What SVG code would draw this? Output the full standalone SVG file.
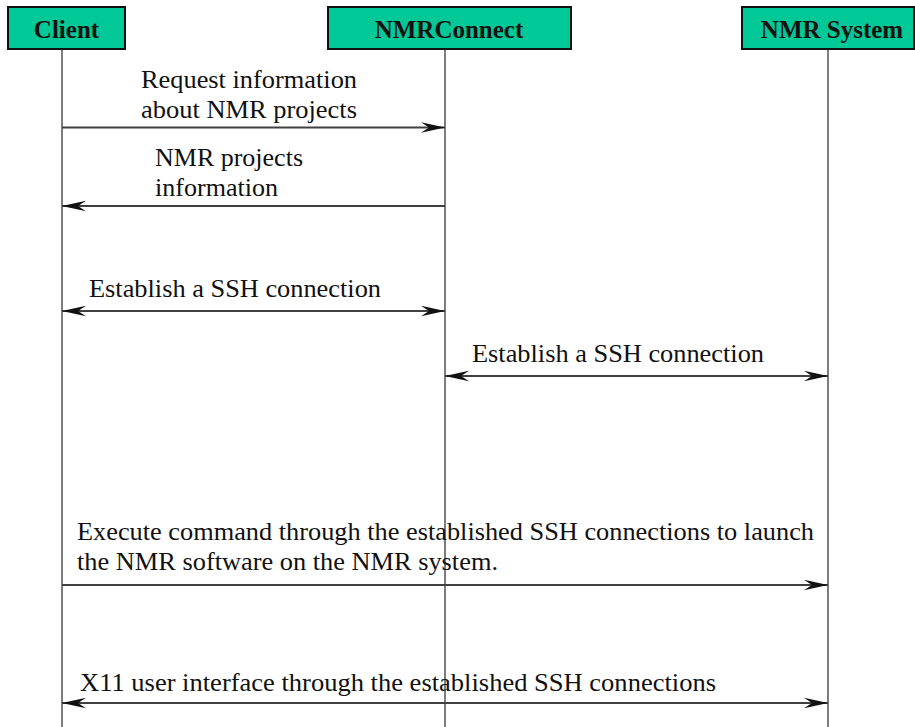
<svg xmlns="http://www.w3.org/2000/svg" width="915" height="727" viewBox="0 0 915 727">
  <style>
    .box { fill: #00c896; stroke: #111; stroke-width: 2; }
    .title { font-family: "Liberation Serif", "Times New Roman", serif; font-weight: bold; font-size: 25px; fill: #111; text-anchor: middle; }
    .life { stroke: #707070; stroke-width: 1.8; fill: none; }
    .msg { stroke: #404040; stroke-width: 1.8; fill: none; }
    .label { font-family: "Liberation Serif", "Times New Roman", serif; font-size: 26px; fill: #111; }
  </style>
  <defs>
    <marker id="head" viewBox="0 0 24 12" refX="24" refY="6" markerWidth="24" markerHeight="12" markerUnits="userSpaceOnUse" orient="auto-start-reverse">
      <path d="M24,6 L0,0.8 L8,6 L0,11.2 Z" fill="#111"/>
    </marker>
  </defs>

  <rect width="915" height="727" fill="#ffffff"/>

  <!-- lifelines -->
  <g id="lifelines">
    <line class="life" x1="62" y1="49" x2="62" y2="727"/>
    <line class="life" x1="445" y1="49" x2="445" y2="727"/>
    <line class="life" x1="828" y1="49" x2="828" y2="727"/>
  </g>

  <!-- participants -->
  <g id="client">
    <rect class="box" x="8" y="7" width="117" height="42"/>
    <text class="title" x="66.5" y="38">Client</text>
  </g>
  <g id="nmrconnect">
    <rect class="box" x="328" y="7" width="243" height="42"/>
    <text class="title" x="449" y="38">NMRConnect</text>
  </g>
  <g id="nmrsystem">
    <rect class="box" x="742" y="7" width="172" height="42"/>
    <text class="title" x="832" y="38">NMR System</text>
  </g>

  <!-- messages -->
  <g id="connectors">
    <line class="msg" x1="62" y1="127.5" x2="445" y2="127.5" marker-end="url(#head)"/>
    <line class="msg" x1="445" y1="206" x2="62" y2="206" marker-end="url(#head)"/>
    <line class="msg" x1="62" y1="311" x2="445" y2="311" marker-start="url(#head)" marker-end="url(#head)"/>
    <line class="msg" x1="445" y1="376" x2="828" y2="376" marker-start="url(#head)" marker-end="url(#head)"/>
    <line class="msg" x1="62" y1="585" x2="828" y2="585" marker-end="url(#head)"/>
    <line class="msg" x1="62" y1="703" x2="828" y2="703" marker-start="url(#head)" marker-end="url(#head)"/>
  </g>

  <!-- message labels -->
  <g id="labels">
    <text class="label" x="141" y="88" textLength="216" lengthAdjust="spacingAndGlyphs">Request information</text>
    <text class="label" x="141" y="118" textLength="216" lengthAdjust="spacingAndGlyphs">about NMR projects</text>
    <text class="label" x="155" y="166" textLength="148" lengthAdjust="spacingAndGlyphs">NMR projects</text>
    <text class="label" x="155" y="196" textLength="123" lengthAdjust="spacingAndGlyphs">information</text>
    <text class="label" x="89" y="297" textLength="292" lengthAdjust="spacingAndGlyphs">Establish a SSH connection</text>
    <text class="label" x="472" y="362" textLength="292" lengthAdjust="spacingAndGlyphs">Establish a SSH connection</text>
    <text class="label" x="77" y="540" textLength="737" lengthAdjust="spacingAndGlyphs">Execute command through the established SSH connections to launch</text>
    <text class="label" x="77" y="570" textLength="421" lengthAdjust="spacingAndGlyphs">the NMR software on the NMR system.</text>
    <text class="label" x="80" y="691" textLength="636" lengthAdjust="spacingAndGlyphs">X11 user interface through the established SSH connections</text>
  </g>
</svg>
